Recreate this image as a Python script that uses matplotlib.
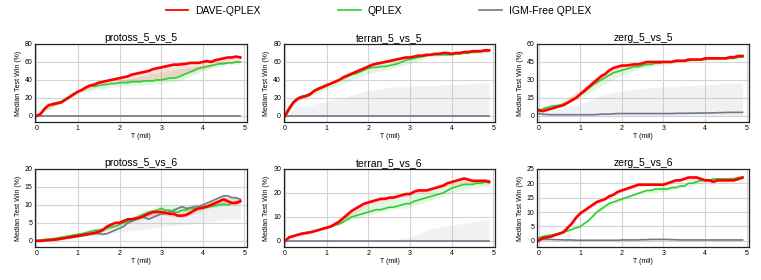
import matplotlib
matplotlib.use('Agg')
import matplotlib.pyplot as plt
import numpy as np

plt.rcParams['font.family'] = ['Liberation Sans', 'DejaVu Sans']

# time grid (million steps) for the median curves, and a coarser one for the bands
T = np.round(np.arange(50) * 0.1, 1)
T_BAND = [0, 0.25, 0.5, 1, 1.5, 2, 2.5, 3, 3.5, 4, 4.5, 4.9]

titles = ['protoss_5_vs_5', 'terran_5_vs_5', 'zerg_5_vs_5',
          'protoss_5_vs_6', 'terran_5_vs_6', 'zerg_5_vs_6']
y_ticks = [[0, 20, 40, 60, 80], [0, 20, 40, 60, 80], [0, 15, 30, 45, 60],
           [0, 5, 10, 15, 20], [0, 10, 20, 30], [0, 5, 10, 15, 20, 25]]

# ---------- protoss_5_vs_5 ----------
p55_dave = [0, 2, 8, 12, 13, 14, 15, 18, 21, 24, 27, 29, 32, 34, 35, 37, 38, 39, 40, 41,
            42, 43, 44, 46, 47, 48, 49, 50, 52, 53, 54, 55, 56, 57, 57, 57.5, 58, 59, 59, 59,
            60, 61, 60, 62, 63, 64, 65, 65, 66, 65]
p55_qplex = [0, 3, 8, 12, 14, 15, 16, 19, 22, 25, 27, 29, 31, 33, 33, 34, 35, 35, 36, 36,
             37, 37, 37, 38, 38, 38, 39, 39, 39, 40, 40, 41, 42, 42, 43, 45, 47, 49, 51, 53,
             54, 55, 56, 57, 58, 58, 59, 59, 60, 60]
p55_free = [0] * 50
p55_dave_lo = [0, 7, 13, 26, 33, 37, 39, 41, 45, 52, 59, 60]
p55_dave_hi = [0, 10, 15, 28, 37, 43, 49, 55, 58, 61, 65, 67]
p55_qplex_lo = [0, 6, 12, 25, 30, 33, 34, 36, 40, 50, 56, 58]
p55_qplex_hi = [0, 9, 15, 28, 34, 39, 44, 49, 53, 56, 60, 61]
p55_free_lo = [0] * 12
p55_free_hi = [0.5] * 12

# ---------- terran_5_vs_5 ----------
t55_dave = [0, 8, 15, 19, 21, 22, 24, 28, 30, 32, 34, 36, 38, 40, 43, 45, 47, 49, 51, 53,
            55, 57, 58, 59, 60, 61, 62, 63, 64, 65, 65, 66, 67, 67, 68, 68, 69, 69, 70, 70,
            69, 70, 70, 71, 71, 72, 72, 72, 73, 73]
t55_qplex = [2, 10, 16, 20, 22, 23, 25, 28, 31, 33, 35, 36, 38, 40, 42, 44, 46, 47, 49, 51,
             53, 54, 54, 55, 55, 56, 57, 58, 60, 62, 63, 64, 65, 66, 67, 68, 68, 68, 68, 68,
             68, 69, 69, 70, 70, 71, 71, 72, 72, 72]
t55_free = [0] * 50
t55_dave_lo = [0, 16, 21, 33, 43, 54, 60, 64, 67, 68, 70, 71]
t55_dave_hi = [0, 19, 23, 36, 46, 57, 63, 66, 69, 71, 73, 74]
t55_qplex_lo = [0, 15, 20, 30, 38, 47, 52, 58, 66, 67, 69, 70]
t55_qplex_hi = [2, 19, 24, 36, 45, 55, 60, 64, 69, 70, 72, 73]
t55_free_lo = [0] * 12
t55_free_hi = [0, 10, 11, 16, 22, 28, 32, 33, 34, 35, 36, 37]

# ---------- zerg_5_vs_5 ----------
z55_dave = [5, 4, 5, 6, 7, 8, 9, 11, 13, 15, 18, 21, 24, 27, 30, 33, 35, 38, 40, 41,
            42, 42, 42.5, 43, 43, 44, 45, 45, 45, 45, 45, 45, 45, 46, 46, 46, 47, 47, 47, 47,
            48, 48, 48, 48, 48, 48, 49, 49, 50, 50]
z55_qplex = [4, 6, 7, 8, 8.5, 9, 10, 11, 13, 15, 18, 20, 23, 26, 28, 30, 32, 34, 36, 37,
             38, 39, 40, 41, 41, 42, 43, 43, 44, 44, 45, 45, 45, 46, 46, 46, 46, 47, 47, 47,
             47, 48, 48, 48, 48, 48, 48, 48, 49, 49]
z55_free = [2, 1.5, 1.2, 1, 1, 1, 1, 1, 1, 1, 1, 1, 1, 1, 1.2, 1.5, 1.5, 1.5, 1.8, 2,
            2, 2, 2, 2, 2, 2, 2, 2, 2, 2, 2, 2, 2, 2.2, 2.2, 2.2, 2.3, 2.3, 2.4, 2.4,
            2.5, 2.5, 2.6, 2.7, 2.8, 2.9, 3, 3, 3, 3]
z55_dave_lo = [3, 5, 8, 17, 30, 40, 42, 44, 46, 47, 47, 49]
z55_dave_hi = [6, 7, 10, 22, 35, 43, 45, 46, 47, 48, 49, 51]
z55_qplex_lo = [4, 6, 8, 15, 25, 34, 40, 43, 45, 46, 47, 48]
z55_qplex_hi = [6, 8, 10, 20, 33, 40, 44, 46, 47, 48, 49, 50]
z55_free_lo = [0] * 12
z55_free_hi = [5, 5, 6, 10, 17, 21, 23, 24, 25, 26, 27, 27]

# ---------- protoss_5_vs_6 ----------
p56_dave = [0, 0, 0.1, 0.2, 0.3, 0.4, 0.6, 0.8, 1, 1.2, 1.4, 1.6, 1.8, 2, 2.2, 2.5, 3, 4, 4.5, 5,
            5, 5.5, 6, 6, 6.2, 6.5, 7, 7.5, 8, 8, 8, 7.8, 7.5, 7.5, 7, 7, 7.2, 7.8, 8.5, 9,
            9.2, 9.5, 10, 10.5, 11, 11.5, 11, 10.5, 10.5, 11]
p56_qplex = [0, 0.2, 0.4, 0.5, 0.6, 0.8, 1, 1.2, 1.4, 1.6, 1.8, 2, 2.3, 2.6, 2.9, 3, 3.3, 3.5, 3.8, 4,
             4.5, 5, 5.5, 6, 6.5, 7, 7.5, 8, 8.2, 8.5, 9, 8.5, 8.5, 8, 8, 8.5, 8.5, 9, 9, 9.2,
             9.5, 9.5, 9.5, 9.8, 10, 10.2, 10, 10.5, 10.8, 11]
p56_free = [0, 0.1, 0.2, 0.3, 0.4, 0.5, 0.6, 0.8, 0.9, 1, 1.2, 1.4, 1.6, 1.8, 2, 2, 1.8, 2, 2.5, 3,
            3.5, 4, 5, 5.5, 6, 6.5, 6.5, 6, 6.5, 7, 7.5, 7.5, 8, 8.5, 9, 9.5, 9, 9.2, 9.5, 9.5,
            10, 10.5, 11, 11.5, 12, 12.5, 12.5, 12, 12, 11.5]
p56_dave_lo = [0, 0, 0, 1, 2, 4.3, 5.8, 7.2, 6.3, 8.5, 10.7, 10.3]
p56_dave_hi = [0.3, 0.4, 0.8, 1.8, 3, 5.8, 7.2, 8.8, 7.8, 10, 12.3, 11.7]
p56_qplex_lo = [0, 0.2, 0.5, 1.4, 2.5, 4, 6.3, 8, 7.8, 9, 9.6, 10.5]
p56_qplex_hi = [0.2, 0.7, 1.1, 2.2, 3.6, 5.2, 7.8, 10, 9.5, 10.2, 10.8, 11.5]
p56_free_lo = [0, 0.1, 0.3, 1, 1.5, 2.5, 3, 4, 4.5, 5, 6, 6]
p56_free_hi = [0.2, 0.5, 0.7, 1.5, 2.5, 4, 7, 8, 10, 10.5, 12.5, 12]

# ---------- terran_5_vs_6 ----------
t56_dave = [0, 1.5, 2, 2.5, 3, 3.2, 3.5, 4, 4.5, 5, 5.5, 6, 7, 8, 9.5, 11, 12.5, 13.5, 14.5, 15.5,
            16, 16.5, 17, 17.5, 17.5, 18, 18, 18.5, 19, 19.5, 19.5, 20.5, 21, 21, 21, 21.5, 22, 22.5, 23, 24,
            24.5, 25, 25.5, 26, 25.5, 25, 25, 25, 25, 24.5]
t56_qplex = [0, 1.5, 2, 2.5, 3, 3.5, 3.7, 4, 4.5, 5, 5.5, 6, 6.5, 7, 8, 9, 10, 10.5, 11, 11.5,
             12, 12.5, 13, 13, 13.5, 14, 14, 14.5, 15, 15.5, 15.5, 16.5, 17, 17.5, 18, 18.5, 19, 19.5, 20, 21,
             22, 22.5, 23, 23.5, 23.5, 23.5, 24, 24, 24.5, 25]
t56_free = [0] * 50
t56_dave_lo = [0, 1.8, 2.8, 5, 10, 15, 17, 19, 21, 23.5, 24, 23.5]
t56_dave_hi = [0.3, 2.6, 3.6, 6, 12, 16.8, 18.8, 20.3, 22.3, 25.3, 26, 26]
t56_qplex_lo = [0, 1.8, 3, 5, 8, 11, 13, 14, 17, 20, 22, 23]
t56_qplex_hi = [0.3, 2.6, 4, 6, 11, 15, 17, 19, 21, 24, 25, 26]
t56_free_lo = [0] * 12
t56_free_hi = [0, 0, 0, 0, 0, 0, 0.2, 1.5, 5, 6.5, 8, 9]

# ---------- zerg_5_vs_6 ----------
z56_dave = [0, 1, 1.2, 1.5, 2, 2.5, 3, 4.5, 6, 8, 9.5, 10.5, 11.5, 12.5, 13.5, 14, 14.5, 15.5, 16, 17,
            17.5, 18, 18.5, 19, 19.5, 19.5, 19.5, 19.5, 19.5, 19.5, 19.5, 20, 20.5, 21, 21, 21.5, 22, 22, 22, 21.5,
            21, 21, 20.5, 21, 21, 21, 21, 21, 21.5, 22]
z56_qplex = [1, 1.5, 1.8, 2, 2.3, 2.6, 3, 3.5, 4, 4.5, 5, 6, 7, 8.5, 10, 11, 12, 13, 13.5, 14,
             14.5, 15, 15.5, 16, 16.5, 17, 17.5, 17.5, 18, 18, 18, 18, 18.5, 18.5, 19, 19, 20, 20, 20.5, 21,
             21, 21, 21.5, 21.5, 21.5, 21.5, 21.5, 21.5, 22, 22]
z56_free = [0.5, 0.5, 0.5, 0.5, 0.4, 0.4, 0.3, 0.3, 0.3, 0.2, 0.2, 0.2, 0.2, 0.2, 0.2, 0.2, 0.2, 0.2, 0.2, 0.2,
            0.3, 0.3, 0.3, 0.3, 0.3, 0.4, 0.4, 0.5, 0.5, 0.5, 0.5, 0.5, 0.4, 0.4, 0.3, 0.3, 0.3, 0.3, 0.3, 0.3,
            0.3, 0.3, 0.3, 0.3, 0.3, 0.3, 0.3, 0.3, 0.3, 0.3]
z56_dave_lo = [0, 1, 2, 9, 13.5, 17, 19, 19, 21, 20.5, 20.3, 21.3]
z56_dave_hi = [0.5, 1.6, 3, 10, 14.5, 18, 20, 20, 22, 21.7, 22, 22.7]
z56_qplex_lo = [0.5, 1.6, 2.3, 4.6, 10.5, 14, 16.5, 17, 18.5, 20.5, 21, 21.5]
z56_qplex_hi = [1.5, 2.2, 3, 5.4, 11.5, 15, 17.5, 19, 19.5, 21.5, 22, 22.5]
z56_free_lo = [0] * 12
z56_free_hi = [0.8, 0.8, 0.6, 0.5, 0.5, 0.5, 0.6, 0.7, 0.6, 0.5, 0.5, 0.5]

panels = [
    (p55_dave, p55_qplex, p55_free, p55_dave_lo, p55_dave_hi, p55_qplex_lo, p55_qplex_hi, p55_free_lo, p55_free_hi),
    (t55_dave, t55_qplex, t55_free, t55_dave_lo, t55_dave_hi, t55_qplex_lo, t55_qplex_hi, t55_free_lo, t55_free_hi),
    (z55_dave, z55_qplex, z55_free, z55_dave_lo, z55_dave_hi, z55_qplex_lo, z55_qplex_hi, z55_free_lo, z55_free_hi),
    (p56_dave, p56_qplex, p56_free, p56_dave_lo, p56_dave_hi, p56_qplex_lo, p56_qplex_hi, p56_free_lo, p56_free_hi),
    (t56_dave, t56_qplex, t56_free, t56_dave_lo, t56_dave_hi, t56_qplex_lo, t56_qplex_hi, t56_free_lo, t56_free_hi),
    (z56_dave, z56_qplex, z56_free, z56_dave_lo, z56_dave_hi, z56_qplex_lo, z56_qplex_hi, z56_free_lo, z56_free_hi),
]

RED = '#ff0000'
GREEN = '#33cc33'
GREY = '#6c7a8a'

fig = plt.figure(figsize=(7.61, 2.8), dpi=100)
lefts = [0.046, 0.373, 0.706]
bottoms = [0.564, 0.118]
width = 0.278
height = 0.279

for i, (title, yt, data) in enumerate(zip(titles, y_ticks, panels)):
    dave, qplex, free, d_lo, d_hi, q_lo, q_hi, f_lo, f_hi = data
    ax = fig.add_axes([lefts[i % 3], bottoms[i // 3], width, height])
    ax.fill_between(T_BAND, f_lo, f_hi, color='#aab4be', alpha=0.18, lw=0)
    ax.fill_between(T_BAND, q_lo, q_hi, color=GREEN, alpha=0.15, lw=0)
    ax.fill_between(T_BAND, d_lo, d_hi, color=RED, alpha=0.13, lw=0)
    ax.plot(T, free, color=GREY, lw=1.2)
    ax.plot(T, qplex, color=GREEN, lw=1.2)
    ax.plot(T, dave, color=RED, lw=1.9)
    top = yt[-1]
    ax.set_ylim(-0.085 * top, top)
    ax.set_xlim(-0.03, 5.05)
    ax.set_xticks([0, 1, 2, 3, 4, 5])
    ax.set_yticks(yt)
    ax.grid(True, color='#d4d4d4', lw=0.8)
    ax.set_axisbelow(True)
    ax.tick_params(length=0, labelsize=5, pad=2)
    for s in ax.spines.values():
        s.set_color('#222222')
        s.set_linewidth(0.9)
    ax.set_title(title, fontsize=7.5, pad=2)
    ax.set_ylabel('Median Test Win (%)', fontsize=5, labelpad=2)
    ax.set_xlabel('T (mil)', fontsize=5, labelpad=1)

handles = [plt.Line2D([], [], color=RED, lw=1.3),
           plt.Line2D([], [], color=GREEN, lw=1.2),
           plt.Line2D([], [], color=GREY, lw=1.2)]
fig.legend(handles, ['DAVE-QPLEX', 'QPLEX', 'IGM-Free QPLEX'], loc='center',
           bbox_to_anchor=(0.497, 0.962), ncol=3, frameon=False, fontsize=7.5,
           handlelength=2.2, columnspacing=7.4, handletextpad=0.65)

plt.savefig('out.png', dpi=100)
